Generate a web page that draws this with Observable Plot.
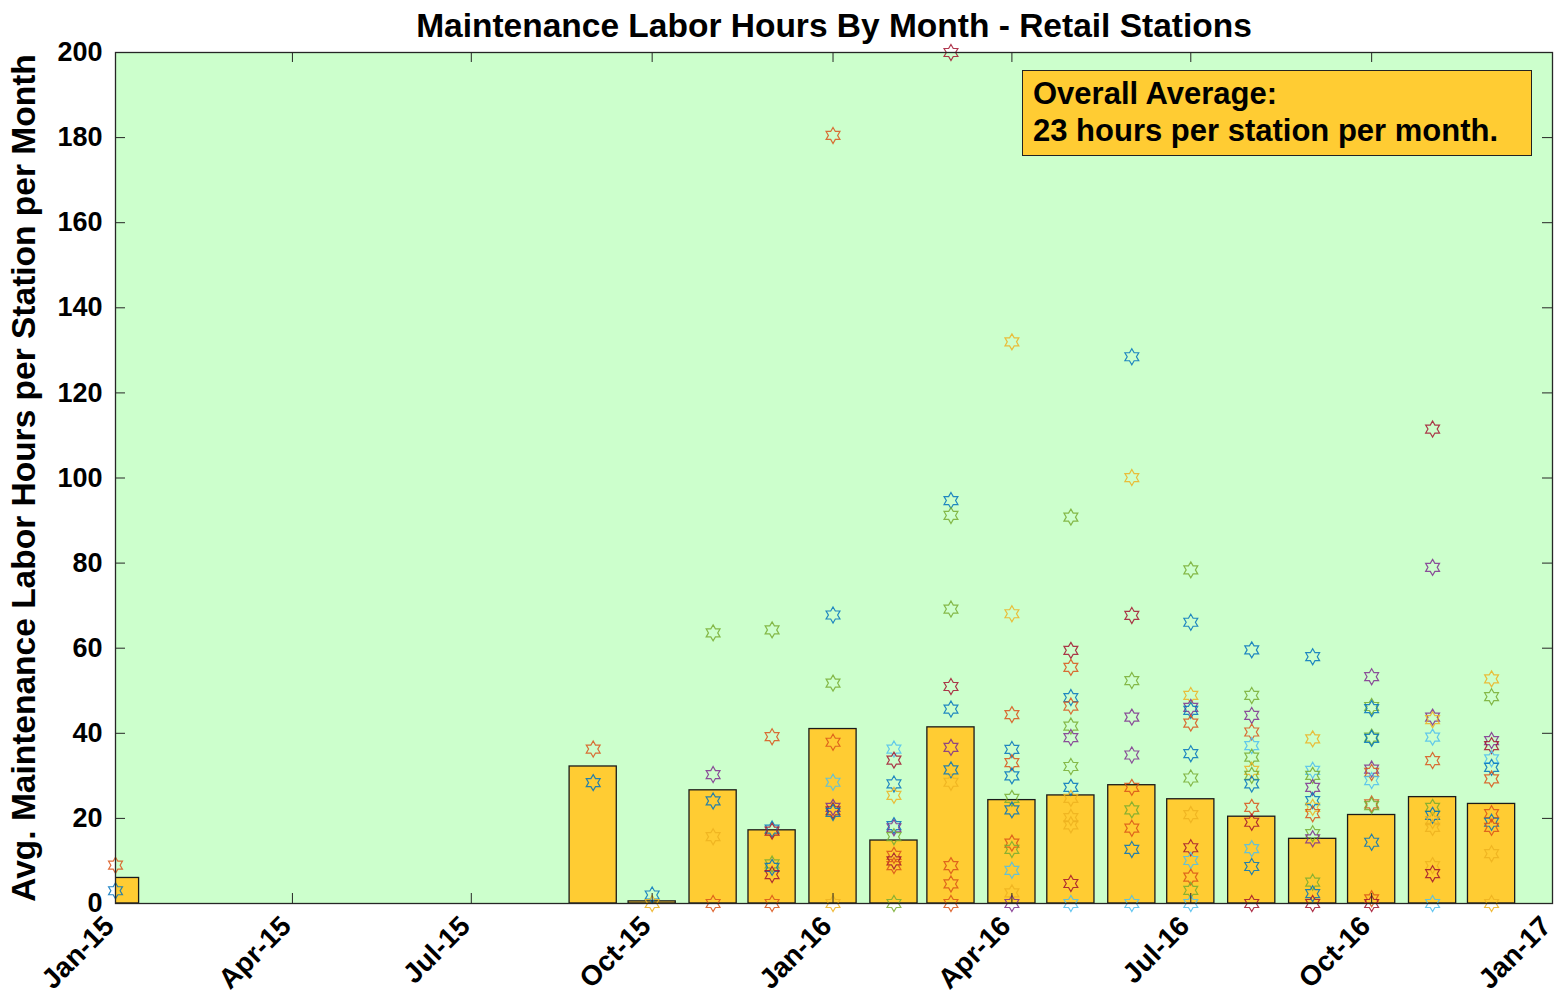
<!DOCTYPE html>
<html><head><meta charset="utf-8">
<script src="https://cdn.jsdelivr.net/npm/d3@7"></script>
<script src="https://cdn.jsdelivr.net/npm/@observablehq/plot@0.6"></script>
<style>
body{margin:0;background:#fff;}
#wrap{position:relative;width:1556px;height:995px;}
#note{position:absolute;left:1022px;top:70px;width:498px;height:74px;background:#ffcc33;border:1.5px solid #222;
  font-family:"Liberation Sans",Arial,Helvetica,sans-serif;font-weight:bold;font-size:31px;line-height:37px;padding:3.5px 0 6.5px 10px;color:#000;box-sizing:content-box;white-space:nowrap;}
</style>
</head><body><div id="wrap"><div id="chart"></div><div id="note"></div></div>
<script>
// ---- data ----
const title = "Maintenance Labor Hours By Month - Retail Stations";
const yLabel = "Avg. Maintenance Labor Hours per Station per Month";
const noteLines = ["Overall Average:", "23 hours per station per month."];
const months = ["2015-01-01","2015-09-01","2015-10-01","2015-11-01","2015-12-01","2016-01-01","2016-02-01","2016-03-01",
  "2016-04-01","2016-05-01","2016-06-01","2016-07-01","2016-08-01","2016-09-01","2016-10-01","2016-11-01","2016-12-01"];
const avgHours = [6.0,32.2,0.5,26.6,17.2,41.0,14.8,41.4,24.3,25.4,27.8,24.5,20.4,15.2,20.8,25.0,23.4];
const stationHours = [
  [9,3],
  [36.3,28.4],
  [2,0],
  [63.6,30.3,24.1,15.7,0],
  [64.3,39.2,17.5,17.0,9.3,8.5,6.8,0],
  [180.5,67.8,51.8,37.9,28.5,22.6,21.8,21.4,0],
  [36.3,33.7,28.1,25.4,18.3,17.8,15.7,11.3,10.0,8.9,0],
  [200,94.7,91.2,69.2,51.0,45.7,36.7,31.4,28.5,8.9,4.6,0],
  [132,68.1,44.4,36.2,33.1,30.0,24.7,22.0,14.2,12.7,7.8,2.5,0],
  [90.8,59.5,55.5,48.4,46.4,41.7,39.0,32.2,27.3,24.7,20.2,18.5,4.7,0],
  [128.5,100.1,67.7,52.4,43.8,34.9,27.3,22.0,17.7,12.7,0],
  [78.4,66.1,48.9,46.1,45.4,42.4,35.2,29.5,20.9,13.1,10.1,6.2,3.1,0],
  [59.6,48.9,44.2,40.3,37.1,34.4,31.3,30.1,28.1,22.6,19.1,12.9,8.7,0],
  [58.0,38.7,31.3,30.1,27.3,24.2,22.6,21.1,16.4,15.2,5.0,2.3,0],
  [53.3,46.3,45.8,39.1,38.8,31.6,30.8,28.9,23.4,23.0,14.4,1.1,0],
  [111.5,79.0,43.8,43.2,39.1,33.6,22.6,20.7,19.5,17.9,8.9,7.0,0],
  [52.8,48.6,38.3,37.1,34.0,32.0,29.3,21.1,19.1,17.9,11.7,0]
];
// station colour group per star (B blue, O orange, Y yellow, P purple, G green, C cyan, R dark red)
const stationGroup = [
  "OB","OB","BY","GPBYO","GOBRGBRO","OBGOCPRBY","CRBYBPGOROG","RBGGRBPBYOOO","YYOBOBGBOGCYP","GROBOGPGBYYYRC",
  "BYRGPPOGOBC","GBYPBOBGYRCOGC","BGPOCGYGBORCBR","BYCGPBYOGPGBR","PGBGBPOCOGBOR","RPPYCOGBYYYRC","YGPRCBOOBOYY"
];
const yTicks = [0,20,40,60,80,100,120,140,160,180,200];
const xTicks = ["2015-01-01","2015-04-01","2015-07-01","2015-10-01","2016-01-01","2016-04-01","2016-07-01","2016-10-01","2017-01-01"];
const groupDomain = ["B","O","Y","P","G","C","R"];
const groupColors = ["#0072bd","#d95319","#edb120","#7e2f8e","#77ac30","#4dbeee","#a2142f"];

// ---- tables ----
const parse = d3.utcParse("%Y-%m-%d");
const bars = months.map((m,i)=>({date: parse(m), avg: avgHours[i]}));
const stars = months.flatMap((m,i)=>stationHours[i].map((v,j)=>({date: parse(m), hours: v, grp: stationGroup[i][j]})));
const xTickDates = xTicks.map(parse);

const W=1556, H=995, ML=115, MR=4, MT=52, MB=92;
const plotW = W-ML-MR, plotH = H-MT-MB;
const hexagram = {
  draw(ctx, size){
    const R = Math.sqrt(size/Math.PI), r = R/Math.sqrt(3);
    for (let k=0;k<12;k++){
      const a = k*Math.PI/6, rad = k%2 ? r : R;
      const x = rad*Math.sin(a), y = -rad*Math.cos(a);
      if (k===0) ctx.moveTo(x,y); else ctx.lineTo(x,y);
    }
    ctx.closePath();
  }
};
const axisColor = "#262626";
const chart = Plot.plot({
  width: W, height: H,
  marginLeft: ML, marginRight: MR, marginTop: MT, marginBottom: MB,
  style: {fontFamily: '"Liberation Sans", Arial, Helvetica, sans-serif', fontWeight: "bold", color: "#000", background: "#fff"},
  x: {type: "utc", domain: [parse("2015-01-01"), parse("2017-01-01")]},
  y: {domain: [0,200]},
  color: {domain: groupDomain, range: groupColors},
  marks: [
    Plot.frame({fill: "#ccffcc", stroke: null}),
    Plot.rectY(bars, {x1: d=>d3.utcDay.offset(d.date,-12), x2: d=>d3.utcDay.offset(d.date,12), y: "avg",
      fill: "#ffcc33", stroke: "#1a1a1a", strokeWidth: 1.3, clip: true}),
    Plot.dot(stars, {x: "date", y: "hours", stroke: "grp", symbol: hexagram, r: 8, strokeWidth: 1.2, fill: "none", strokeOpacity: 0.85}),
    Plot.tickY(yTicks, {y: d=>d, insetRight: plotW-10, stroke: axisColor}),
    Plot.tickY(yTicks, {y: d=>d, insetLeft: plotW-10, stroke: axisColor}),
    Plot.tickX(xTickDates, {x: d=>d, insetTop: plotH-10, stroke: axisColor}),
    Plot.tickX(xTickDates, {x: d=>d, insetBottom: plotH-10, stroke: axisColor}),
    Plot.frame({stroke: axisColor, strokeWidth: 1.3}),
    Plot.axisY({ticks: yTicks, tickSize: 0, tickPadding: 13, fontSize: 27, label: null}),
    Plot.axisX({ticks: xTickDates, tickFormat: d3.utcFormat("%b-%y"), tickSize: 0, tickPadding: 18, tickRotate: -45,
      textAnchor: "end", fontSize: 28, dx: -6, label: null}),
    Plot.text([yLabel], {text: d=>d, frameAnchor: "left", textAnchor: "middle", lineAnchor: "middle", rotate: -90, dx: -91, fontSize: 33.5}),
    Plot.text([title], {text: d=>d, frameAnchor: "top", lineAnchor: "middle", dy: -26, fontSize: 33.5})
  ]
});
document.getElementById("chart").appendChild(chart);
document.getElementById("note").innerHTML = noteLines.join("<br>");
</script>
</body></html>
